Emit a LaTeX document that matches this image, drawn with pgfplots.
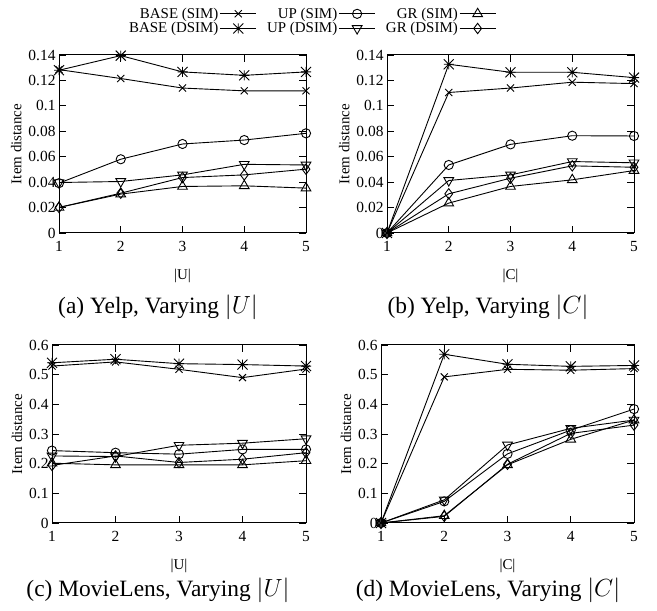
\documentclass[border=0pt]{standalone}
\usepackage{pgfplots}
\pgfplotsset{compat=1.18}
\usepackage{pgfplotstable}
\usepackage{fontspec}
\setmainfont{Liberation Serif}

\pgfdeclareplotmark{ast8}{%
  \pgfpathmoveto{\pgfqpoint{-\pgfplotmarksize}{0pt}}\pgfpathlineto{\pgfqpoint{\pgfplotmarksize}{0pt}}%
  \pgfpathmoveto{\pgfqpoint{0pt}{-\pgfplotmarksize}}\pgfpathlineto{\pgfqpoint{0pt}{\pgfplotmarksize}}%
  \pgfpathmoveto{\pgfqpoint{-\pgfplotmarksize}{-\pgfplotmarksize}}\pgfpathlineto{\pgfqpoint{\pgfplotmarksize}{\pgfplotmarksize}}%
  \pgfpathmoveto{\pgfqpoint{-\pgfplotmarksize}{\pgfplotmarksize}}\pgfpathlineto{\pgfqpoint{\pgfplotmarksize}{-\pgfplotmarksize}}%
  \pgfusepathqstroke}

\pgfplotstableread{
x BS BD US UD GS GD
1 0.1285 0.1280 0.0392 0.0397 0.0201 0.0201
2 0.1215 0.1395 0.0580 0.0405 0.0306 0.0313
3 0.1140 0.1267 0.0700 0.0457 0.0366 0.0436
4 0.1118 0.1240 0.0731 0.0540 0.0371 0.0457
5 0.1118 0.1267 0.0784 0.0535 0.0353 0.0502
}\tA
\pgfplotstableread{
x BS BD US UD GS GD
1 0 0 0 0 0 0
2 0.1105 0.1327 0.0535 0.0413 0.0235 0.0308
3 0.1140 0.1264 0.0697 0.0457 0.0366 0.0431
4 0.1186 0.1264 0.0765 0.0562 0.0418 0.0528
5 0.1175 0.1222 0.0763 0.0552 0.0491 0.0517
}\tB
\pgfplotstableread{
x BS BD US UD GS GD
1 0.529 0.540 0.244 0.226 0.2015 0.194
2 0.543 0.552 0.237 0.224 0.196 0.226
3 0.518 0.537 0.232 0.262 0.196 0.204
4 0.490 0.534 0.248 0.269 0.196 0.215
5 0.519 0.529 0.248 0.284 0.210 0.237
}\tC
\pgfplotstableread{
x BS BD US UD GS GD
1 0 0 0 0 0 0
2 0.4925 0.5687 0.0728 0.078 0.0246 0.0224
3 0.518 0.535 0.233 0.263 0.196 0.198
4 0.515 0.528 0.313 0.319 0.282 0.302
5 0.5205 0.531 0.384 0.347 0.347 0.330
}\tD

\pgfplotsset{
  myax/.style={
    scale only axis, height=178bp,
    xmin=1, xmax=5, ymin=0, xtick={1,2,3,4,5},
    tick align=inside, major tick length=7bp,
    axis line style={line width=1bp},
    every tick/.style={line width=0.8bp, black},
    tick label style={font=\fontsize{15.5}{15.5}\selectfont},
    xticklabel style={yshift=-5bp},
    label style={font=\fontsize{15}{15}\selectfont},
    xlabel style={yshift=-10bp},
    ylabel={Item distance},
    /pgf/number format/assume math mode=true,
    clip=false,
    every axis plot/.append style={black, line width=0.9bp, mark options={solid, line width=0.9bp}},
  },
  bs/.style={mark=x, mark size=5bp},
  bd/.style={mark=ast8, mark size=5bp},
  us/.style={mark=o, mark size=4.6bp},
  ud/.style={mark=triangle, mark size=5.6bp, mark options={rotate=180}},
  gs/.style={mark=triangle, mark size=5.6bp},
  gd/.style={mark=diamond, mark size=5.2bp},
}

\newcommand{\allplots}[1]{%
  \addplot[bs] table[x=x,y=BS] {#1};
  \addplot[bd] table[x=x,y=BD] {#1};
  \addplot[us] table[x=x,y=US] {#1};
  \addplot[ud] table[x=x,y=UD] {#1};
  \addplot[gs] table[x=x,y=GS] {#1};
  \addplot[gd] table[x=x,y=GD] {#1};
}

\begin{document}
\begin{tikzpicture}[x=1bp, y=1bp]
\useasboundingbox (0,0) rectangle (657,611);

\begin{axis}[myax, at={(59bp,378bp)}, anchor=south west, width=247bp,
  ymax=0.14, ytick={0,0.02,0.04,0.06,0.08,0.1,0.12,0.14},
  yticklabels={0,0.02,0.04,0.06,0.08,0.1,0.12,0.14},
  xlabel={|U|},
  legend columns=2, transpose legend,
  legend plot pos=right, legend cell align=right,
  legend image code/.code={\draw[mark repeat=2,mark phase=2] plot coordinates {(0bp,0bp) (18bp,0bp) (36bp,0bp)};},
  legend style={draw=none, fill=none, at={(rel axis cs:1.024,1.19)}, anchor=center,
    font=\fontsize{15}{15}\selectfont, row sep=0bp,
    nodes={inner sep=1.4bp},
    /tikz/every even column/.append style={column sep=9bp}},
]
\allplots{\tA}
\legend{BASE (SIM), BASE (DSIM), UP (SIM), UP (DSIM), GR (SIM), GR (DSIM)}
\end{axis}

\begin{axis}[myax, at={(387bp,378bp)}, anchor=south west, width=247bp,
  ymax=0.14, ytick={0,0.02,0.04,0.06,0.08,0.1,0.12,0.14},
  yticklabels={0,0.02,0.04,0.06,0.08,0.1,0.12,0.14},
  xlabel={|C|}]
\allplots{\tB}
\end{axis}

\begin{axis}[myax, at={(52bp,88bp)}, anchor=south west, width=254bp,
  ymax=0.6, ytick={0,0.1,0.2,0.3,0.4,0.5,0.6},
  yticklabels={0,0.1,0.2,0.3,0.4,0.5,0.6},
  xlabel={|U|}]
\allplots{\tC}
\end{axis}

\begin{axis}[myax, at={(381bp,88bp)}, anchor=south west, width=253bp,
  ymax=0.6, ytick={0,0.1,0.2,0.3,0.4,0.5,0.6},
  yticklabels={0,0.1,0.2,0.3,0.4,0.5,0.6},
  xlabel={|C|}]
\allplots{\tD}
\end{axis}

\node[font=\fontsize{23.5}{24}\selectfont] at (158,304) {(a) Yelp, Varying $|U|$};
\node[font=\fontsize{23.5}{24}\selectfont] at (488,304) {(b) Yelp, Varying $|C|$};
\node[font=\fontsize{23.5}{24}\selectfont] at (158,21) {(c) MovieLens, Varying $|U|$};
\node[font=\fontsize{23.5}{24}\selectfont] at (488,21) {(d) MovieLens, Varying $|C|$};
\end{tikzpicture}
\end{document}
